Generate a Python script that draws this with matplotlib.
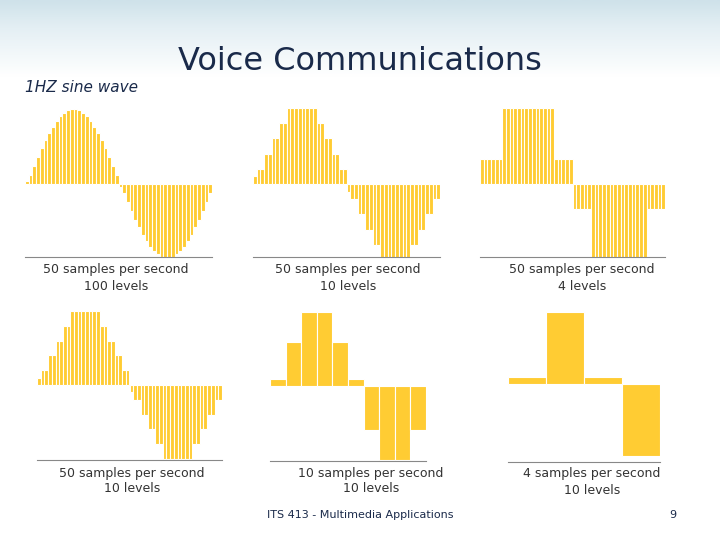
import matplotlib
matplotlib.use("Agg")
import matplotlib.pyplot as plt
import numpy as np
from matplotlib.colors import LinearSegmentedColormap

W, H = 720, 540
BAR = "#FFCC33"

# Quantized 1 Hz sine values
s50_100 = [0.04, 0.12, 0.24, 0.36, 0.48, 0.58, 0.68, 0.76, 0.84, 0.90, 0.94, 0.98, 1.0, 1.0, 0.98, 0.94,
           0.90, 0.84, 0.76, 0.68, 0.58, 0.48, 0.36, 0.24, 0.12,
           -0.04, -0.12, -0.24, -0.36, -0.48, -0.58, -0.68, -0.76, -0.84, -0.90, -0.94, -0.98, -1.0, -1.0, -0.98,
           -0.94, -0.90, -0.84, -0.76, -0.68, -0.58, -0.48, -0.36, -0.24, -0.12]
s50_10 = [0.1, 0.2, 0.2, 0.4, 0.4, 0.6, 0.6, 0.8, 0.8, 1.0, 1.0, 1.0, 1.0, 1.0, 1.0, 1.0, 1.0,
          0.8, 0.8, 0.6, 0.6, 0.4, 0.4, 0.2, 0.2,
          -0.1, -0.2, -0.2, -0.4, -0.4, -0.6, -0.6, -0.8, -0.8, -1.0, -1.0, -1.0, -1.0, -1.0, -1.0, -1.0, -1.0,
          -0.8, -0.8, -0.6, -0.6, -0.4, -0.4, -0.2, -0.2]
s50_4 = [0.33] * 6 + [1.0] * 14 + [0.33] * 5 + [-0.33] * 5 + [-1.0] * 15 + [-0.33] * 5
s10_10 = [0.1, 0.6, 1.0, 1.0, 0.6, 0.1, -0.6, -1.0, -1.0, -0.6]
s4_10 = [0.1, 1.0, 0.1, -1.0]

labels = ["50 samples per second\n100 levels", "50 samples per second\n10 levels",
          "50 samples per second\n4 levels", "50 samples per second\n10 levels",
          "10 samples per second\n10 levels", "4 samples per second\n10 levels"]

fig = plt.figure(figsize=(W / 100, H / 100), dpi=100)

# gradient background at top
bg = fig.add_axes([0, 0, 1, 1], zorder=-10)
grad = np.linspace(0, 1, 256).reshape(-1, 1)
cm = LinearSegmentedColormap.from_list("g", [(0, "#ffffff"), (0.86, "#ffffff"), (0.95, "#e4eff4"), (1, "#cfe2ea")])
bg.imshow(grad, aspect="auto", cmap=cm, extent=[0, 1, 0, 1], origin="lower")
bg.axis("off")

def px_axes(x0, x1, ytop, ybot):
    return fig.add_axes([x0 / W, 1 - ybot / H, (x1 - x0) / W, (ybot - ytop) / H])

panels = [
    (25, 212, 105, 257, 184, 75, s50_100, 116, 278),
    (253, 440, 105, 257, 184, 76, s50_10, 348, 278),
    (480, 665, 105, 257, 184, 76, s50_4, 582, 278),
    (37, 222, 308, 460, 385, 74, s50_10, 132, 481),
    (270, 426, 308, 461, 386, 74, s10_10, 371, 481),
    (508, 660, 308, 462, 384, 72, s4_10, 592, 482),
]

for (x0, x1, yt, yb, yz, amp, data, lx, ly), lab in zip(panels, labels):
    ax = px_axes(x0, x1, yt, yb)
    n = len(data)
    ax.bar(np.arange(n), data, width=1.0, align="edge", color=BAR, edgecolor="white", linewidth=0.8)
    ax.set_xlim(0, n)
    ax.set_ylim(-(yb - yz) / amp, (yz - yt) / amp)
    for sp in ["top", "right", "left"]:
        ax.spines[sp].set_visible(False)
    ax.spines["bottom"].set_color("#888888")
    ax.set_xticks([]); ax.set_yticks([])
    ax.patch.set_alpha(0)
    fig.text(lx / W, 1 - ly / H, lab, ha="center", va="center", fontsize=9,
             color="#333333", linespacing=1.3)

fig.text(360 / W, 1 - 62 / H, "Voice Communications", ha="center", va="center",
         fontsize=23, color="#1a2a4a")
fig.text(25 / W, 1 - 88 / H, "1HZ sine wave", ha="left", va="center",
         fontsize=11, style="italic", color="#1a2a4a")
fig.text(360 / W, 1 - 515 / H, "ITS 413 - Multimedia Applications", ha="center", va="center",
         fontsize=8, color="#1a2a4a")
fig.text(673 / W, 1 - 515 / H, "9", ha="center", va="center", fontsize=8, color="#1a2a4a")

fig.savefig("out.png", dpi=100)
